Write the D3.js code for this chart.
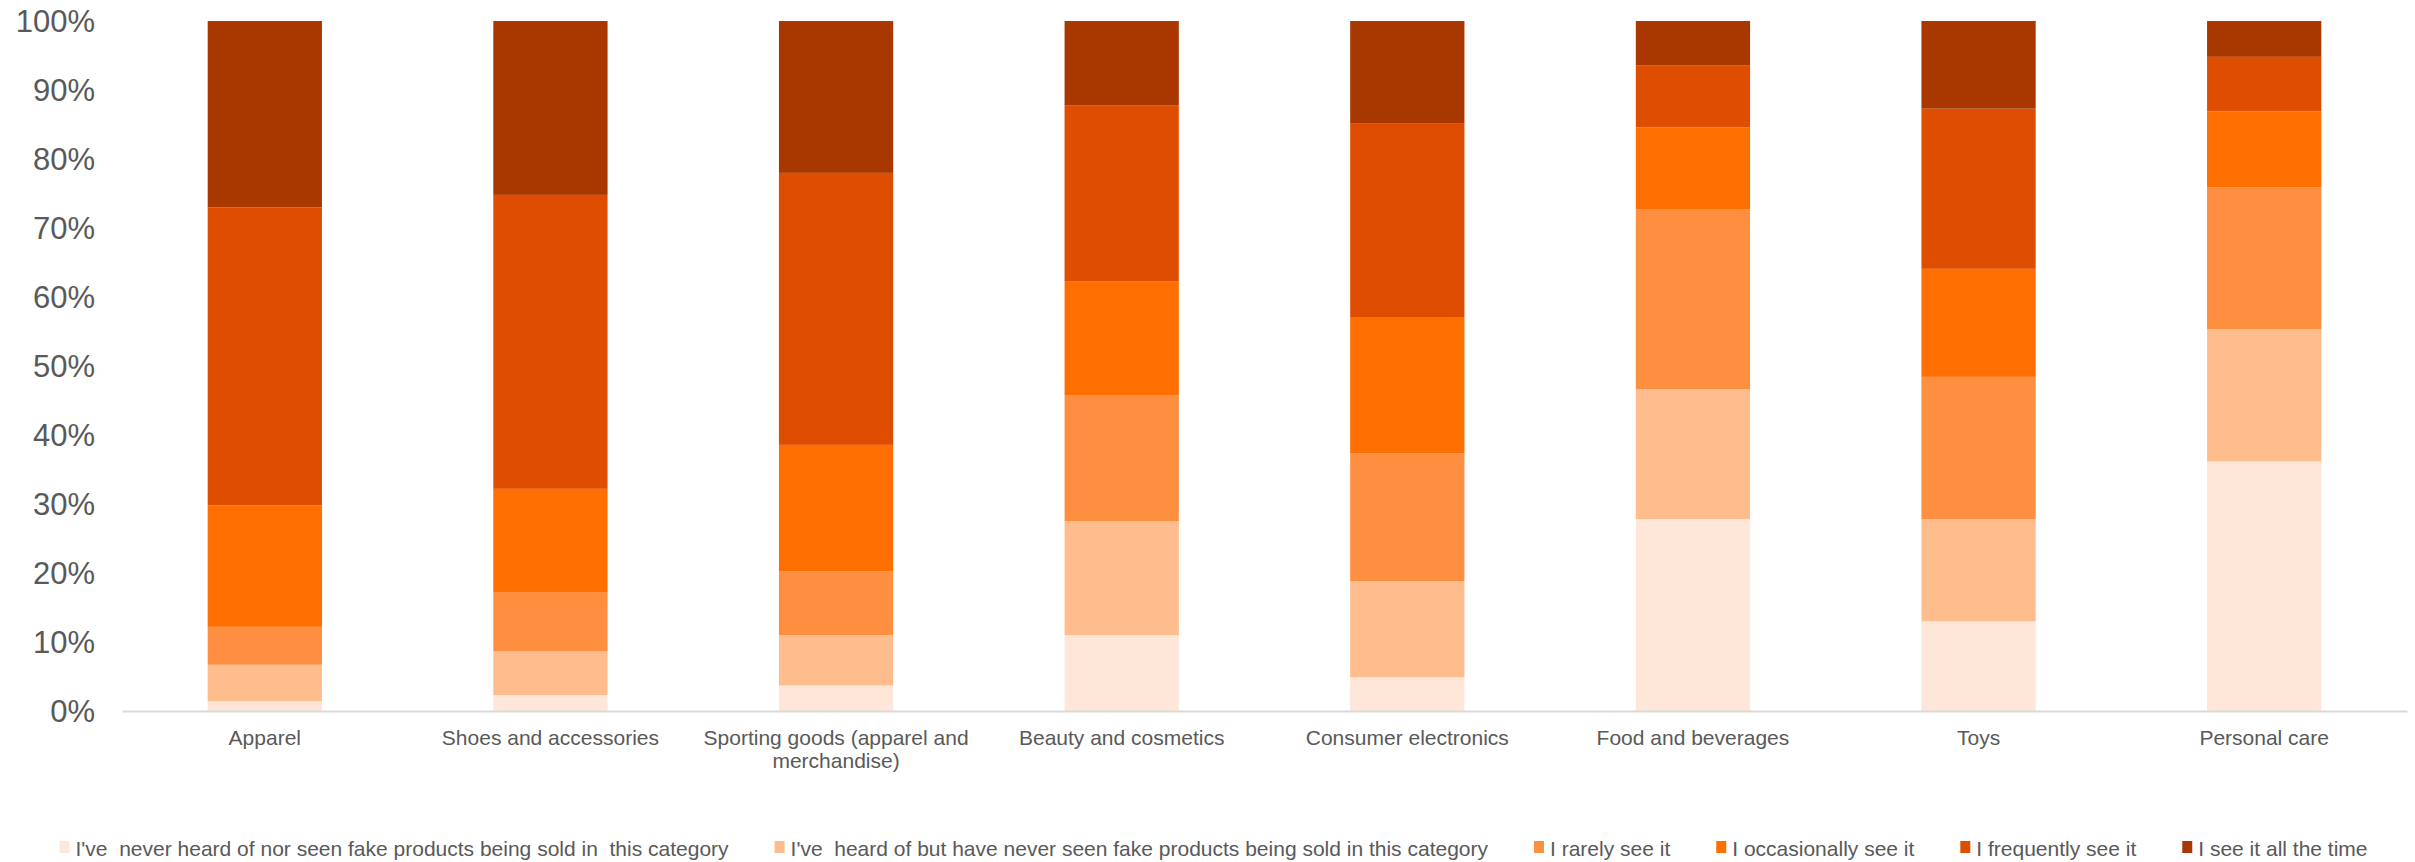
<!DOCTYPE html>
<html>
<head>
<meta charset="utf-8">
<script src="https://cdn.jsdelivr.net/npm/d3@7"></script>
<style>
  body { margin: 0; background: #fff; }
  svg text { font-family: "Liberation Sans", Arial, sans-serif; fill: #595959; }
</style>
</head>
<body>
<div class="chart"></div>
<script>
// categories along the x axis
var categories = ["Apparel", "Shoes and accessories", "Sporting goods (apparel and merchandise)",
  "Beauty and cosmetics", "Consumer electronics", "Food and beverages", "Toys", "Personal care"];

// answer options, bottom to top
var seriesNames = [
  "I've  never heard of nor seen fake products being sold in  this category",
  "I've  heard of but have never seen fake products being sold in this category",
  "I rarely see it",
  "I occasionally see it",
  "I frequently see it",
  "I see it all the time"
];
var seriesColors = ["#fee6d8", "#ffbd8e", "#ff8f40", "#ff6e00", "#de4d00", "#a83800"];

// share of respondents (%), one value per category
var neverHeard   = [1.4, 2.3, 3.7, 11.0, 4.9, 27.8, 13.0, 36.2];
var heardNotSeen = [5.3, 6.4, 7.3, 16.5, 13.9, 18.8, 14.8, 19.2];
var rarely       = [5.5, 8.45, 9.25, 18.3, 18.5, 26.1, 20.6, 20.6];
var occasionally = [17.6, 15.05, 18.3, 16.5, 19.8, 11.85, 15.65, 11.0];
var frequently   = [43.2, 42.6, 39.4, 25.5, 28.1, 9.0, 23.2, 7.9];
var allTheTime   = [27.0, 25.2, 22.0, 12.2, 14.8, 6.4, 12.7, 5.2];

var yTicks = [0, 0.1, 0.2, 0.3, 0.4, 0.5, 0.6, 0.7, 0.8, 0.9, 1];

var svgWidth = 2415;
var svgHeight = 862;

var seriesValues = [neverHeard, heardNotSeen, rarely, occasionally, frequently, allTheTime];

// table for d3.stack
var table = categories.map(function (c, i) {
  var row = { category: c };
  seriesNames.forEach(function (s, j) { row[s] = seriesValues[j][i]; });
  return row;
});

var stacked = d3.stack()
  .keys(seriesNames)
  .offset(d3.stackOffsetExpand)(table);

var svg = d3.select(".chart")
  .append("svg")
  .attr("width", svgWidth)
  .attr("height", svgHeight);

var xScale = d3.scaleBand()
  .domain(categories)
  .range([122, 2407])
  .paddingInner(0.6)
  .paddingOuter(0.3);

var yScale = d3.scaleLinear()
  .domain([0, 1])
  .range([711, 21]);

var color = d3.scaleOrdinal()
  .domain(seriesNames)
  .range(seriesColors);

// y axis (labels only)
var leftAxis = d3.axisLeft(yScale)
  .tickValues(yTicks)
  .tickFormat(d3.format(".0%"))
  .tickSize(0)
  .tickPadding(27);

var yAxisGroup = svg.append("g")
  .attr("transform", "translate(122,0)")
  .call(leftAxis);
yAxisGroup.select(".domain").remove();
yAxisGroup.selectAll("text")
  .attr("font-size", "31px")
  .attr("dy", "0.35em")
  .style("font-family", "'Liberation Sans', Arial, sans-serif")
  .attr("fill", "#595959");

// stacked bars
svg.append("g")
  .selectAll("g")
  .data(stacked)
  .enter()
  .append("g")
  .attr("fill", d => color(d.key))
  .selectAll("rect")
  .data(d => d)
  .enter()
  .append("rect")
  .attr("x", d => xScale(d.data.category))
  .attr("y", d => yScale(d[1]))
  .attr("width", xScale.bandwidth())
  .attr("height", d => yScale(d[0]) - yScale(d[1]));

// x axis
var bottomAxis = d3.axisBottom(xScale).tickSize(0).tickFormat("");
var xAxisGroup = svg.append("g")
  .attr("transform", "translate(0,711)")
  .call(bottomAxis);
xAxisGroup.select(".domain")
  .attr("stroke", "#d9d9d9")
  .attr("stroke-width", 2);

// category labels, wrapped to the band step
var labels = svg.append("g")
  .selectAll("text")
  .data(categories)
  .enter()
  .append("text")
  .attr("text-anchor", "middle")
  .attr("font-size", "21px")
  .attr("y", 745)
  .each(function (d) {
    var text = d3.select(this);
    var words = d.split(" ");
    var line = [];
    var lineNo = 0;
    var cx = xScale(d) + xScale.bandwidth() / 2;
    var tspan = text.append("tspan").attr("x", cx).attr("dy", 0);
    words.forEach(function (w) {
      line.push(w);
      tspan.text(line.join(" "));
      if (tspan.node().getComputedTextLength() > xScale.step() && line.length > 1) {
        line.pop();
        tspan.text(line.join(" "));
        line = [w];
        lineNo++;
        tspan = text.append("tspan").attr("x", cx).attr("dy", "23px").text(w);
      }
    });
  });

// legend, laid out left to right and centred
var legend = svg.append("g");
var cursor = 0;
seriesNames.forEach(function (s) {
  var item = legend.append("g").attr("transform", `translate(${cursor},0)`);
  item.append("rect")
    .attr("x", 0)
    .attr("y", 841)
    .attr("width", 10)
    .attr("height", 12)
    .attr("fill", color(s));
  var t = item.append("text")
    .attr("x", 16)
    .attr("y", 856)
    .attr("font-size", "21px")
    .style("white-space", "pre")
    .text(s);
  cursor += 16 + t.node().getComputedTextLength() + 46;
});
var legendWidth = cursor - 46;
legend.attr("transform", `translate(${(57 + 2370) / 2 - legendWidth / 2},0)`);
</script>
</body>
</html>
